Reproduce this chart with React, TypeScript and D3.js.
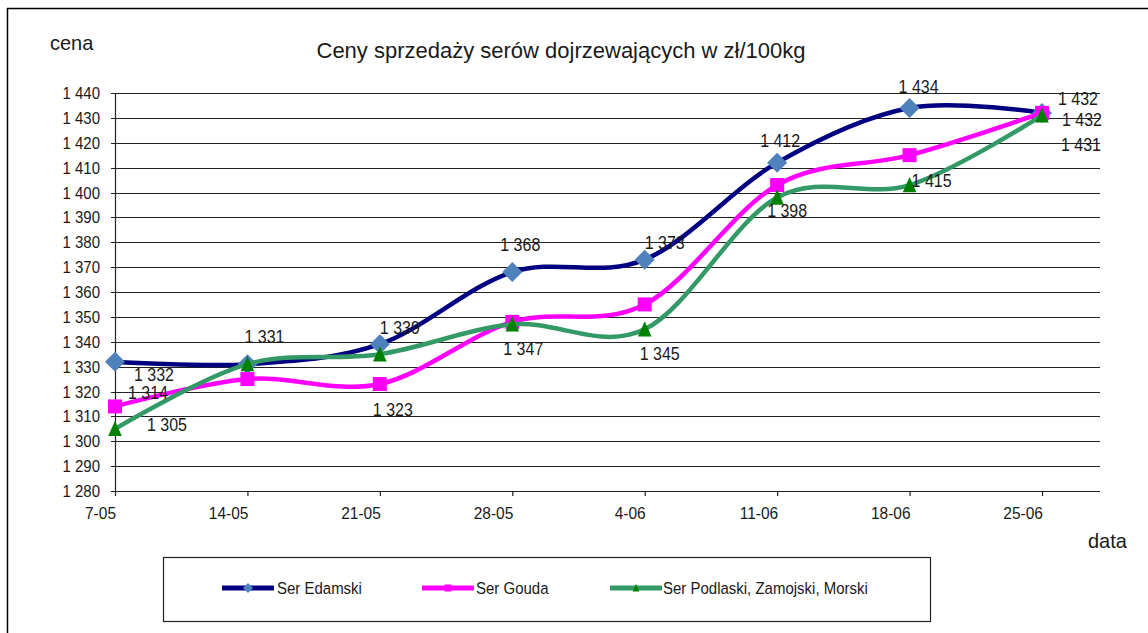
import React from "react";
import * as d3 from "d3";

const categories = ["7-05", "14-05", "21-05", "28-05", "4-06", "11-06", "18-06", "25-06"];
const edamski = [1332, 1331, 1339, 1368, 1373, 1412, 1434, 1432];
const gouda = [1314, 1325, 1323, 1348, 1355, 1403, 1415, 1432];
const podlaski = [1305, 1331, 1335, 1347, 1345, 1398, 1403, 1431];
const yTicks = [1280, 1290, 1300, 1310, 1320, 1330, 1340, 1350, 1360, 1370, 1380, 1390, 1400, 1410, 1420, 1430, 1440];
const seriesNames = ["Ser Edamski", "Ser Gouda", "Ser Podlaski, Zamojski, Morski"];
const titleText = "Ceny sprzedaży serów dojrzewających w zł/100kg";
const yAxisTitle = "cena";
const xAxisTitle = "data";

// label placement (index of point, offset of label centre from the point)
const edamskiLabels = [
  { i: 0, dx: 39, dy: 13 }, { i: 1, dx: 17, dy: -27 }, { i: 2, dx: 20, dy: -16 },
  { i: 3, dx: 8, dy: -27 }, { i: 4, dx: 20, dy: -17 }, { i: 5, dx: 3, dy: -22 },
  { i: 6, dx: 9, dy: -21 }, { i: 7, dx: 36, dy: -14 },
];
const goudaLabels = [
  { i: 0, dx: 33, dy: -13 }, { i: 2, dx: 13, dy: 26 }, { i: 6, dx: 22, dy: 26 }, { i: 7, dx: 40, dy: 7 },
];
const podlaskiLabels = [
  { i: 0, dx: 52, dy: -4 }, { i: 3, dx: 11, dy: 25 }, { i: 4, dx: 15, dy: 25 },
  { i: 5, dx: 10, dy: 14 }, { i: 7, dx: 39, dy: 30 },
];

const W = 1148, H = 633;
const plotLeft = 115, lastX = 1042, plotRight = 1100, plotTop = 93, plotBottom = 491;
const FONT = "'Liberation Sans', Arial, sans-serif";
const txt = "#1a1a1a";

const locale = d3.formatLocale({ decimal: ",", thousands: " ", grouping: [3], currency: ["", ""] });
const fmt = locale.format(",d");

const x = d3.scalePoint<string>().domain(categories).range([plotLeft, lastX]).padding(0);
const y = d3.scaleLinear().domain([1280, 1440]).range([plotBottom, plotTop]);

const line = d3.line<number>()
  .x((_, i) => x(categories[i]) as number)
  .y((d) => y(d))
  .curve(d3.curveCardinal.tension(0));

const series = [
  { name: seriesNames[0], data: edamski, labels: edamskiLabels, color: "#000080", marker: "diamond", mcolor: "#4F81BD" },
  { name: seriesNames[1], data: gouda, labels: goudaLabels, color: "#FF00FF", marker: "square", mcolor: "#FF00FF" },
  { name: seriesNames[2], data: podlaski, labels: podlaskiLabels, color: "#339966", marker: "triangle", mcolor: "#008000" },
];

function Marker({ type, cx, cy, color, s = 1 }: { type: string; cx: number; cy: number; color: string; s?: number }) {
  if (type === "diamond") {
    const r = 10 * s;
    return <path d={`M${cx},${cy - r}L${cx + r},${cy}L${cx},${cy + r}L${cx - r},${cy}Z`} fill={color} />;
  }
  if (type === "square") {
    const h = 7 * s;
    return <rect x={cx - h} y={cy - h} width={2 * h} height={2 * h} fill={color} />;
  }
  const h = 8 * s;
  return <path d={`M${cx},${cy - h}L${cx + h * 0.85},${cy + h * 0.9}L${cx - h * 0.85},${cy + h * 0.9}Z`} fill={color} />;
}

function T({ x, y, children, size, anchor = "start", sy = 1.1 }: { x: number; y: number; children: any; size: number; anchor?: string; sy?: number }) {
  return (
    <text transform={`translate(${x},${y}) scale(1,${sy})`} textAnchor={anchor} fontSize={size} fill={txt}>{children}</text>
  );
}

export default function App() {
  const legendItems = [
    { lx: 222, tx: 277 },
    { lx: 422, tx: 476 },
    { lx: 610, tx: 663 },
  ];
  return (
    <svg width={W} height={H} style={{ position: "absolute", left: 0, top: 0, background: "#fff" }} fontFamily={FONT}>
      <rect x={0} y={0} width={W} height={H} fill="#fff" />
      {/* outer frame */}
      <line x1={7.5} y1={8} x2={7.5} y2={H} stroke="#000" strokeWidth={1.5} />
      <line x1={7} y1={8.5} x2={W} y2={8.5} stroke="#000" strokeWidth={1.5} />

      {/* titles */}
      <T x={561} y={58} size={22} anchor="middle" sy={1.03}>{titleText}</T>
      <T x={50} y={50} size={20} sy={1.05}>{yAxisTitle}</T>
      <T x={1088} y={548} size={20} sy={1.05}>{xAxisTitle}</T>

      {/* gridlines + y ticks */}
      {yTicks.map((t) => (
        <g key={t}>
          <line x1={plotLeft - 4} x2={plotRight} y1={Math.round(y(t)) + 0.5} y2={Math.round(y(t)) + 0.5} stroke="#222" strokeWidth={1.2} />
          <T x={100} y={y(t) + 6} size={15} anchor="end">{fmt(t)}</T>
        </g>
      ))}
      {/* axes */}
      <line x1={plotLeft + 0.5} x2={plotLeft + 0.5} y1={plotTop} y2={plotBottom} stroke="#222" strokeWidth={1.2} />
      <line x1={plotLeft} x2={plotRight} y1={Math.round(y(1280)) + 0.5} y2={Math.round(y(1280)) + 0.5} stroke="#222" strokeWidth={1.2} />
      {categories.map((c) => (
        <g key={c}>
          <line x1={(x(c) as number) + 0.5} x2={(x(c) as number) + 0.5} y1={plotBottom} y2={plotBottom + 5} stroke="#222" strokeWidth={1.2} />
          <T x={(x(c) as number) + 1} y={519} size={15.5} anchor="end">{c}</T>
        </g>
      ))}

      {/* series */}
      {series.map((s) => (
        <g key={s.name}>
          <path d={line(s.data) || ""} fill="none" stroke={s.color} strokeWidth={4.5} />
          {s.data.map((v, i) => (
            <Marker key={i} type={s.marker} cx={x(categories[i]) as number} cy={y(v)} color={s.mcolor} />
          ))}
        </g>
      ))}

      {/* data labels */}
      {series.map((s) =>
        s.labels.map((l) => (
          <T key={s.name + l.i} x={(x(categories[l.i]) as number) + l.dx} y={y(s.data[l.i]) + l.dy + 6}
            size={16} anchor="middle">{fmt(s.data[l.i])}</T>
        ))
      )}

      {/* legend */}
      <rect x={163.5} y={557.5} width={767} height={64} fill="#fff" stroke="#222" strokeWidth={1.2} />
      {series.map((s, k) => (
        <g key={s.name}>
          <line x1={legendItems[k].lx} x2={legendItems[k].lx + 52} y1={588} y2={588} stroke={s.color} strokeWidth={5} />
          <Marker type={s.marker} cx={legendItems[k].lx + 26} cy={588} color={s.mcolor} s={0.5} />
          <T x={legendItems[k].tx} y={593.5} size={15}>{s.name}</T>
        </g>
      ))}
    </svg>
  );
}
